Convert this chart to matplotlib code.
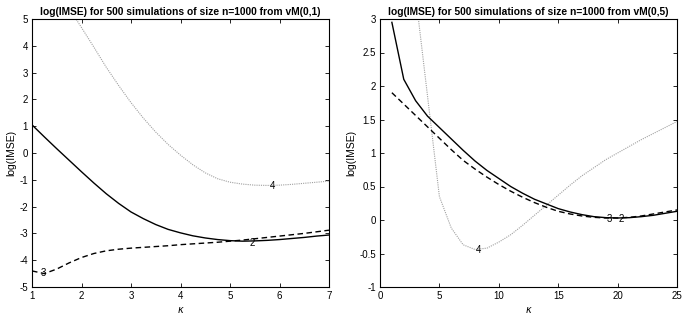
import matplotlib
matplotlib.use("Agg")
import matplotlib.pyplot as plt

plt.rcParams['font.family'] = ['Liberation Sans', 'DejaVu Sans']

# ---------------- Left panel data: vM(0,1) ----------------
kappa_left = [1.0, 1.25, 1.5, 1.75, 2.0, 2.25, 2.5, 2.75, 3.0, 3.25, 3.5, 3.75,
              4.0, 4.25, 4.5, 4.75, 5.0, 5.25, 5.5, 5.75, 6.0, 6.25, 6.5, 6.75, 7.0]
left_curve2 = [1.05, 0.60, 0.16, -0.27, -0.70, -1.12, -1.52, -1.88, -2.20, -2.45,
               -2.67, -2.85, -2.98, -3.09, -3.17, -3.23, -3.27, -3.29, -3.28, -3.26,
               -3.23, -3.19, -3.15, -3.10, -3.06]
left_curve3 = [-4.40, -4.50, -4.33, -4.10, -3.90, -3.75, -3.65, -3.59, -3.55, -3.52,
               -3.49, -3.46, -3.42, -3.39, -3.36, -3.33, -3.29, -3.25, -3.20, -3.15,
               -3.10, -3.05, -3.00, -2.94, -2.88]
kappa_left4 = [1.75, 2.0, 2.25, 2.5, 2.75, 3.0, 3.25, 3.5, 3.75, 4.0, 4.25, 4.5,
               4.75, 5.0, 5.25, 5.5, 5.75, 6.0, 6.25, 6.5, 6.75, 7.0]
left_curve4 = [5.40, 4.68, 3.95, 3.20, 2.52, 1.88, 1.30, 0.78, 0.32, -0.08, -0.44,
               -0.74, -0.96, -1.09, -1.16, -1.20, -1.21, -1.20, -1.17, -1.13, -1.09, -1.05]

# ---------------- Right panel data: vM(0,5) ----------------
kappa_right = [1, 2, 3, 4, 5, 6, 7, 8, 9, 10, 11, 12, 13, 14, 15, 16, 17, 18, 19,
               20, 21, 22, 23, 24, 25]
right_curve2 = [2.95, 2.10, 1.78, 1.55, 1.38, 1.21, 1.04, 0.88, 0.74, 0.62, 0.50,
                0.40, 0.31, 0.24, 0.17, 0.12, 0.08, 0.05, 0.035, 0.03, 0.035, 0.05,
                0.07, 0.10, 0.13]
right_curve3 = [1.90, 1.73, 1.56, 1.39, 1.22, 1.05, 0.89, 0.76, 0.64, 0.53, 0.43,
                0.34, 0.26, 0.19, 0.13, 0.09, 0.06, 0.04, 0.03, 0.03, 0.04, 0.06,
                0.09, 0.12, 0.15]
kappa_right4 = [3, 4, 5, 6, 7, 8, 9, 10, 11, 12, 13, 14, 15, 16, 17, 18, 19, 20, 21,
                22, 23, 24, 25]
right_curve4 = [3.35, 1.85, 0.35, -0.12, -0.37, -0.44, -0.42, -0.33, -0.22, -0.08,
                0.07, 0.22, 0.37, 0.52, 0.66, 0.78, 0.90, 1.00, 1.10, 1.20, 1.29,
                1.38, 1.47]

titles = ["log(IMSE) for 500 simulations of size n=1000 from vM(0,1)",
          "log(IMSE) for 500 simulations of size n=1000 from vM(0,5)"]
ylabel = "log(IMSE)"
xlabel = r"$\kappa$"

# label positions (contour-style numbers)
left_labels = [("2", 5.45, -3.35), ("3", 1.23, -4.49), ("4", 5.86, -1.23)]
right_labels = [("2", 20.3, 0.01), ("3", 19.3, 0.01), ("4", 8.29, -0.45)]

fig = plt.figure(figsize=(6.84, 3.16), dpi=100)
axL = fig.add_axes([32/684, 1-287/316, 297/684, 268/316])
axR = fig.add_axes([380/684, 1-287/316, 297/684, 268/316])

gray = '#a0a0a0'
for ax, kx, c2, c3, kx4, c4, labs in [
        (axL, kappa_left, left_curve2, left_curve3, kappa_left4, left_curve4, left_labels),
        (axR, kappa_right, right_curve2, right_curve3, kappa_right4, right_curve4, right_labels)]:
    ax.plot(kx4, c4, color=gray, lw=0.8, linestyle=(0, (1, 1)))
    ax.plot(kx, c2, color='black', lw=1.0, linestyle='-')
    ax.plot(kx, c3, color='black', lw=1.0, linestyle=(0, (4, 2.5)))
    for t, x, y in labs:
        ax.text(x, y, t, fontsize=7, ha='center', va='center', color='black')
    ax.tick_params(direction='in', top=True, right=True, labelsize=7,
                   length=3, width=0.6, pad=3)
    for s in ax.spines.values():
        s.set_linewidth(0.8)
    ax.set_ylabel(ylabel, fontsize=7.5, labelpad=2)
    ax.set_xlabel(xlabel, fontsize=7, labelpad=3)

axL.set_xlim(1, 7)
axL.set_ylim(-5, 5)
axL.set_xticks([1, 2, 3, 4, 5, 6, 7])
axL.set_yticks([-5, -4, -3, -2, -1, 0, 1, 2, 3, 4, 5])
axR.set_xlim(0, 25)
axR.set_ylim(-1, 3)
axR.set_xticks([0, 5, 10, 15, 20, 25])
axR.set_yticks([-1, -0.5, 0, 0.5, 1, 1.5, 2, 2.5, 3])
axR.set_yticklabels(["-1", "-0.5", "0", "0.5", "1", "1.5", "2", "2.5", "3"])
axL.set_yticklabels([str(v) for v in [-5, -4, -3, -2, -1, 0, 1, 2, 3, 4, 5]])

axL.set_title(titles[0], fontsize=7.4, fontweight='bold', pad=3)
axR.set_title(titles[1], fontsize=7.4, fontweight='bold', pad=3)

fig.savefig("out.png", dpi=100)
